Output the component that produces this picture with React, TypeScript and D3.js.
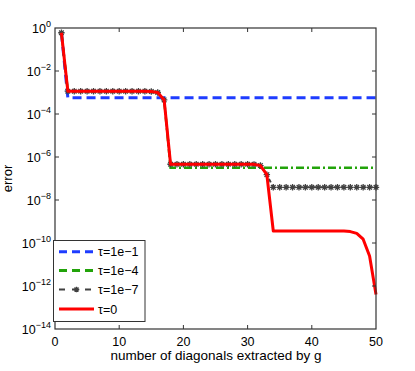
import React from "react";
import * as d3 from "d3";

const xs = d3.range(1, 51);
// τ=0 series values (x = 1..50)
const redVals = [
  0.6, 1.15e-3, 1.15e-3, 1.15e-3, 1.15e-3, 1.15e-3, 1.15e-3, 1.15e-3, 1.15e-3, 1.15e-3,
  1.15e-3, 1.15e-3, 1.15e-3, 1.15e-3, 1.12e-3, 1.0e-3, 4.5e-4, 4.6e-7, 4.6e-7, 4.6e-7,
  4.6e-7, 4.6e-7, 4.6e-7, 4.6e-7, 4.6e-7, 4.6e-7, 4.6e-7, 4.6e-7, 4.6e-7, 4.6e-7,
  4.55e-7, 4.0e-7, 1.5e-7, 3.6e-10, 3.6e-10, 3.6e-10, 3.6e-10, 3.6e-10, 3.6e-10, 3.6e-10,
  3.6e-10, 3.6e-10, 3.6e-10, 3.6e-10, 3.6e-10, 3.4e-10, 2.8e-10, 1.5e-10, 2.5e-11, 4e-13,
];
const blueVals = [0.6, ...d3.range(49).map(() => 5.7e-4)];
const greenVals = [...redVals.slice(0, 17), ...d3.range(33).map(() => 3.2e-7)];
const grayVals = [...redVals.slice(0, 33), ...d3.range(17).map(() => 3.9e-8)];

const xTicks = [0, 10, 20, 30, 40, 50];
const yTickExps = [0, -2, -4, -6, -8, -10, -12, -14];
const legendLabels = ["τ=1e−1", "τ=1e−4", "τ=1e−7", "τ=0"];

const W = 415, H = 371;
const L = 55, R = 376, T = 28, B = 329;
const FONT = "Liberation Sans, Arial, sans-serif";

function star(cx: number, cy: number, r: number) {
  const a = r * 0.72;
  return `M${cx - r},${cy}L${cx + r},${cy}M${cx},${cy - r}L${cx},${cy + r}M${cx - a},${cy - a}L${cx + a},${cy + a}M${cx - a},${cy + a}L${cx + a},${cy - a}`;
}

export default function App() {
  const x = d3.scaleLinear().domain([0, 50]).range([L, R]);
  const y = d3.scaleLog().domain([1e-14, 1]).range([B, T]);
  const line = d3
    .line<number>()
    .x((_, i) => x(xs[i]))
    .y((d) => y(d));

  const axisColor = "#333";
  const blue = "#1e3cff";
  const green = "#22a30a";
  const gray = "#404040";
  const red = "#ff0000";

  const legendY = [251.7, 270.5, 289.5, 309];
  return (
    <svg width={W} height={H} style={{ position: "absolute", left: 0, top: 0 }} fontFamily={FONT}>
      <rect x={0} y={0} width={W} height={H} fill="#fff" />
      {/* series */}
      <path d={line(blueVals) || ""} fill="none" stroke={blue} strokeWidth={3} strokeDasharray="9,5" />
      <path d={line(greenVals) || ""} fill="none" stroke={green} strokeWidth={2.5} strokeDasharray="8,3,2,3" />
      <path d={line(grayVals) || ""} fill="none" stroke={gray} strokeWidth={2} strokeDasharray="4,3" />
      {grayVals.map((v, i) => (
        <path key={i} d={star(x(xs[i]), y(v), 3.2)} stroke={gray} strokeWidth={1.3} fill="none" />
      ))}
      <path d={line(redVals) || ""} fill="none" stroke={red} strokeWidth={3} strokeLinejoin="round" />

      {/* frame */}
      <rect x={L} y={T} width={R - L} height={B - T} fill="none" stroke={axisColor} strokeWidth={1.2} />
      {xTicks.map((t) => (
        <g key={t}>
          {t > 0 && t < 50 && (
            <>
              <line x1={x(t)} x2={x(t)} y1={B} y2={B - 4} stroke={axisColor} />
              <line x1={x(t)} x2={x(t)} y1={T} y2={T + 4} stroke={axisColor} />
            </>
          )}
          <text x={x(t)} y={346} textAnchor="middle" fontSize={12.5} fill="#000">
            {t}
          </text>
        </g>
      ))}
      {yTickExps.map((e) => (
        <g key={e}>
          {e < 0 && e > -14 && (
            <>
              <line x1={L} x2={L + 4} y1={y(Math.pow(10, e))} y2={y(Math.pow(10, e))} stroke={axisColor} />
              <line x1={R} x2={R - 4} y1={y(Math.pow(10, e))} y2={y(Math.pow(10, e))} stroke={axisColor} />
            </>
          )}
          <text x={51} y={y(Math.pow(10, e)) + 4.5} textAnchor="end" fontSize={12.5} fill="#000">
            10
            <tspan fontSize={9} dy={-6}>
              {e === 0 ? "0" : "−" + Math.abs(e)}
            </tspan>
          </text>
        </g>
      ))}
      <text x={216} y={360} textAnchor="middle" fontSize={13.5} fill="#000">
        number of diagonals extracted by g
      </text>
      <text transform={`translate(12,${(T + B) / 2}) rotate(-90)`} textAnchor="middle" fontSize={13} fill="#000">
        error
      </text>

      {/* legend */}
      <rect x={53.5} y={240.5} width={91.5} height={81} fill="#fff" stroke={axisColor} strokeWidth={1} />
      {legendY.map((ly, i) => {
        const x1 = 59, x2 = 94;
        let el;
        if (i === 0) el = <line x1={x1} x2={x2} y1={ly} y2={ly} stroke={blue} strokeWidth={3} strokeDasharray="8,5" />;
        else if (i === 1) el = <line x1={x1} x2={x2} y1={ly} y2={ly} stroke={green} strokeWidth={3} strokeDasharray="8,5" />;
        else if (i === 2)
          el = (
            <g>
              <line x1={x1} x2={x2} y1={ly} y2={ly} stroke={gray} strokeWidth={2} strokeDasharray="6,7" />
              <path d={star((x1 + x2) / 2, ly, 2.8)} stroke={gray} strokeWidth={1.3} fill="none" />
            </g>
          );
        else el = <line x1={x1} x2={x2} y1={ly} y2={ly} stroke={red} strokeWidth={3} />;
        return (
          <g key={i}>
            {el}
            <text x={98} y={ly + 4.5} fontSize={12.5} fill="#000">
              {legendLabels[i]}
            </text>
          </g>
        );
      })}
    </svg>
  );
}
